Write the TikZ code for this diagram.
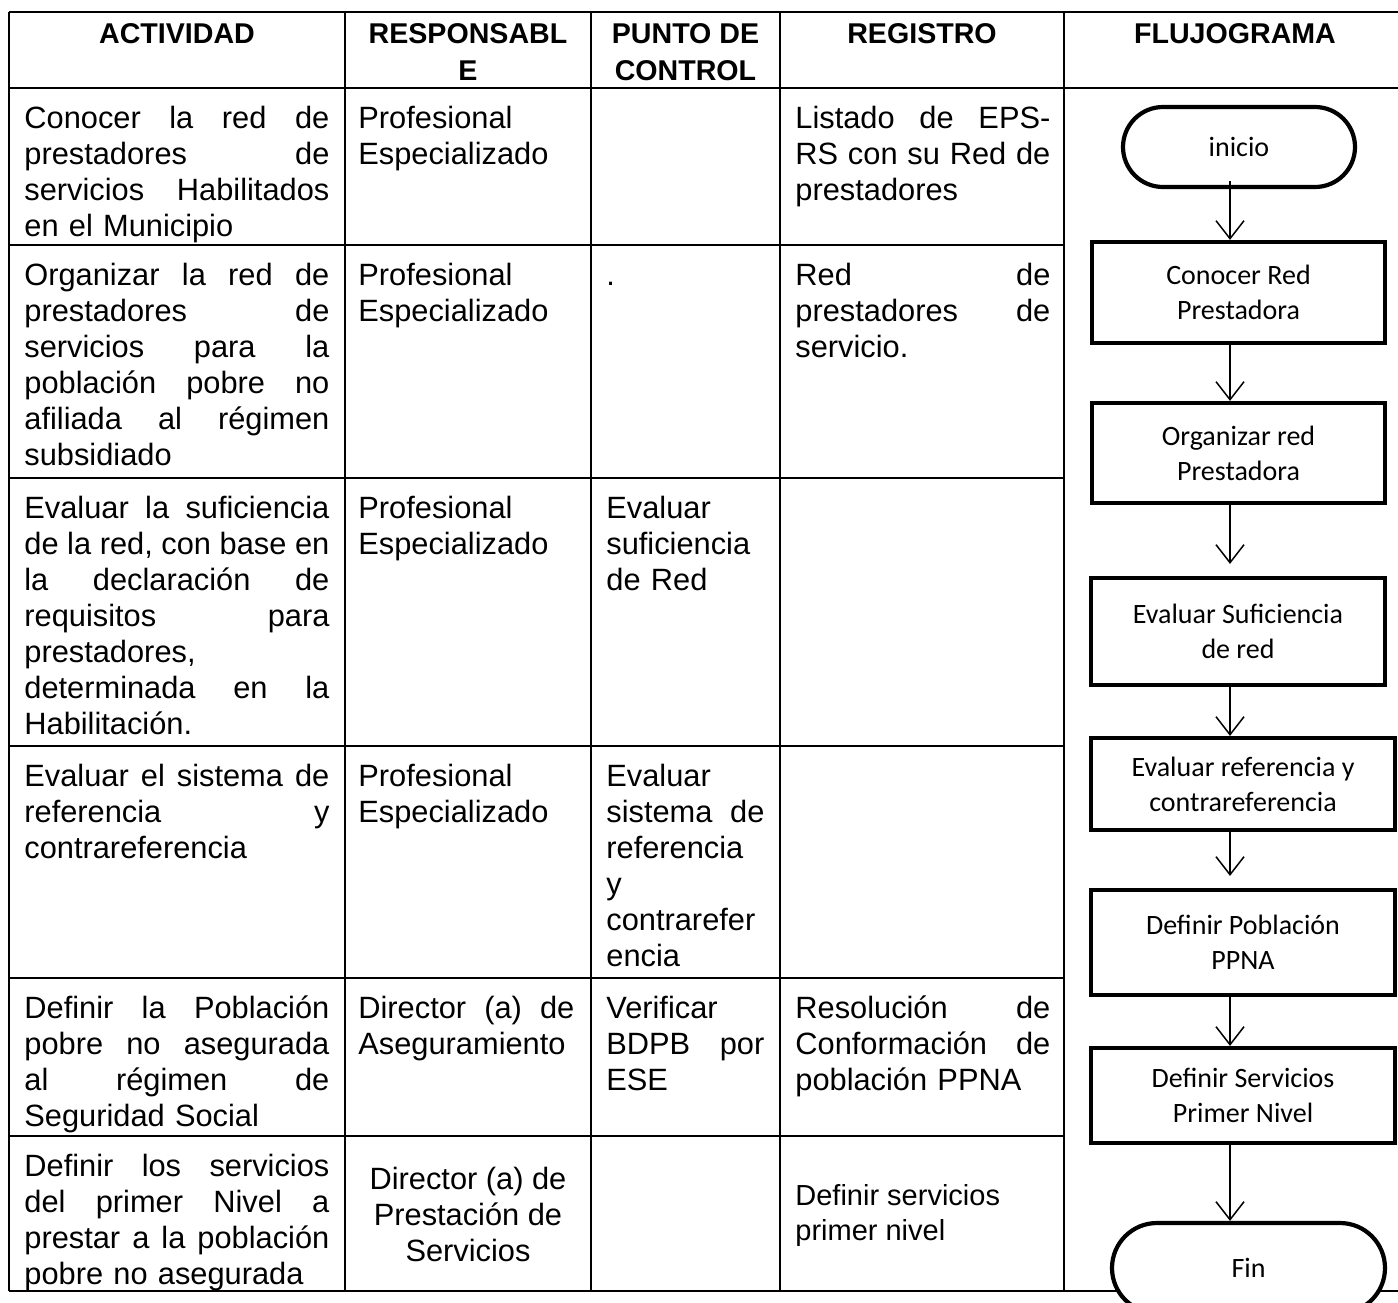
\documentclass[tikz,border=0pt]{standalone}
\usepackage{fontspec}
\setmainfont{Liberation Sans}
\newfontfamily\calibri{Carlito}
\usetikzlibrary{arrows.meta}

\newcommand{\fcuerpo}{\fontsize{15.4}{18}\selectfont}
\newcommand{\fchico}{\fontsize{14.5}{17.5}\selectfont}
\newcommand{\ftitulo}{\fontsize{14.3}{18.5}\selectfont\bfseries}
\newcommand{\fflujo}{\calibri\fontsize{14}{17.5}\selectfont}
\newcommand{\jl}[1]{\leavevmode\hbox to \hsize{\spaceskip=0.278em plus 1fil minus 0.09em #1}\\}

\tikzset{
  titulo/.style={anchor=north,inner sep=0,align=center,font=\ftitulo},
  celda/.style={anchor=north west,inner sep=0,align=left,font=\fcuerpo,text width=#1},
  proceso/.style={draw,line width=2.1pt,fill=white,inner sep=0,align=center,font=\fflujo},
  terminal/.style={proceso,rounded corners=#1},
  flecha/.style={line width=0.75pt,-{Straight Barb[length=9pt,width=14pt]}},
  linea/.style={line width=1pt}
}

\begin{document}
\begin{tikzpicture}[x=0.5pt,y=-0.5pt]
  \useasboundingbox (0,0) rectangle (1398,1302);
  \clip (0,0) rectangle (1398,1302);

  % tabla
  \draw[linea] (9,12) -- (1398,12);
  \draw[linea] (9,88) -- (1398,88);
  \draw[linea] (9,1291) -- (1398,1291);
  \foreach \y in {245,478,746,978,1136}
    \draw[linea] (9,\y) -- (1064,\y);
  \foreach \x in {9,345,591,780,1064}
    \draw[linea] (\x,12) -- (\x,1291);

  % encabezados
  \node[titulo] (hact) at (177,17) {\strut ACTIVIDAD};
  \node[titulo] (hresp) at (468,17) {\strut RESPONSABL\\E};
  \node[titulo] (hctrl) at (685.5,17) {\strut PUNTO DE\\CONTROL};
  \node[titulo] (hreg) at (922,17) {\strut REGISTRO};
  \node[titulo] (hflujo) at (1235,17) {\strut FLUJOGRAMA};

  % actividad
  \node[celda=152.5pt] (act1) at (24,103) {\strut\jl{Conocer la red de}\jl{prestadores de}\jl{servicios Habilitados}en el Municipio};
  \node[celda=152.5pt] (act2) at (24,260) {\strut\jl{Organizar la red de}\jl{prestadores de}\jl{servicios para la}\jl{población pobre no}\jl{afiliada al régimen}subsidiado};
  \node[celda=152.5pt] (act3) at (24,493) {\strut\jl{Evaluar la suficiencia}\jl{de la red, con base en}\jl{la declaración de}\jl{requisitos para}prestadores,\\\jl{determinada en la}Habilitación.};
  \node[celda=152.5pt] (act4) at (24,761) {\strut\jl{Evaluar el sistema de}\jl{referencia y}contrareferencia};
  \node[celda=152.5pt] (act5) at (24,993) {\strut\jl{Definir la Población}\jl{pobre no asegurada}\jl{al régimen de}Seguridad Social};
  \node[celda=152.5pt] (act6) at (24,1151) {\strut\jl{Definir los servicios}\jl{del primer Nivel a}\jl{prestar a la población}pobre no asegurada};

  % responsable
  \node[celda=108pt] (resp1) at (358,103) {\strut Profesional\\Especializado};
  \node[celda=108pt] (resp2) at (358,260) {\strut Profesional\\Especializado};
  \node[celda=108pt] (resp3) at (358,493) {\strut Profesional\\Especializado};
  \node[celda=108pt] (resp4) at (358,761) {\strut Profesional\\Especializado};
  \node[celda=108pt] (resp5) at (358,993) {\strut\jl{Director (a) de}Aseguramiento};
  \node[inner sep=0,align=center,font=\fcuerpo] (resp6) at (468,1214) {Director (a) de\\Prestación de\\Servicios};

  % punto de control
  \node[celda=79pt] (ctrl2) at (606,260) {\strut .};
  \node[celda=79pt] (ctrl3) at (606,493) {\strut Evaluar\\suficiencia\\de Red};
  \node[celda=79pt] (ctrl4) at (606,761) {\strut Evaluar\\\jl{sistema de}referencia\\y\\contrarefer\\encia};
  \node[celda=79pt] (ctrl5) at (606,993) {\strut Verificar\\\jl{BDPB por}ESE};

  % registro
  \node[celda=127.5pt] (reg1) at (795,103) {\strut\jl{Listado de EPS-}\jl{RS con su Red de}prestadores};
  \node[celda=127.5pt] (reg2) at (795,260) {\strut\jl{Red de}\jl{prestadores de}servicio.};
  \node[celda=127.5pt] (reg5) at (795,993) {\strut\jl{Resolución de}\jl{Conformación de}población PPNA};
  \node[anchor=west,inner sep=0,align=left,font=\fchico] (reg6) at (795,1215) {Definir servicios\\primer nivel};

  % flujograma
  \coordinate (eje) at (1230,0);
  \node[terminal=20pt,minimum width=116pt,minimum height=40pt] (inicio) at (1239,147) {inicio};
  \node[proceso,minimum width=146.5pt,minimum height=50.5pt] (b1) at (1238.5,292.5) {Conocer Red\\Prestadora};
  \node[proceso,minimum width=146.5pt,minimum height=50pt] (b2) at (1238.5,453) {Organizar red\\Prestadora};
  \node[proceso,minimum width=147pt,minimum height=53.5pt] (b3) at (1238,631.5) {Evaluar Suficiencia\\de red};
  \node[proceso,minimum width=152pt,minimum height=46pt] (b4) at (1243,784) {Evaluar referencia y\\contrareferencia};
  \node[proceso,minimum width=152pt,minimum height=52.5pt] (b5) at (1243,942.5) {Definir Población\\PPNA};
  \node[proceso,minimum width=152pt,minimum height=47.5pt] (b6) at (1243,1095.5) {Definir Servicios\\Primer Nivel};
  \node[terminal=22.5pt,minimum width=136.5pt,minimum height=45pt] (fin) at (1248.5,1268) {Fin};

  \draw[flecha] ([yshift=4pt]inicio.south -| eje) -- (b1.north -| eje);
  \draw[flecha] (b1.south -| eje) -- (b2.north -| eje);
  \draw[flecha,shorten >=6pt] (b2.south -| eje) -- (b3.north -| eje);
  \draw[flecha] (b3.south -| eje) -- (b4.north -| eje);
  \draw[flecha,shorten >=6pt] (b4.south -| eje) -- (b5.north -| eje);
  \draw[flecha] (b5.south -| eje) -- (b6.north -| eje);
  \draw[flecha] (b6.south -| eje) -- (fin.north -| eje);

\end{tikzpicture}
\end{document}
